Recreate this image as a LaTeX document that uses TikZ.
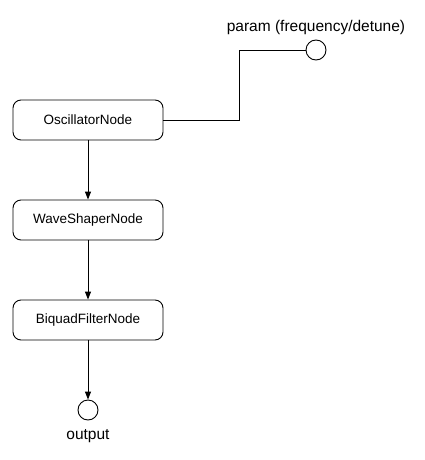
\documentclass[tikz,border=0pt]{standalone}
\usepackage{fontspec}
\setmainfont{Liberation Sans}
\usetikzlibrary{arrows.meta}
\begin{document}
\begin{tikzpicture}[x=1pt,y=-1pt,
  box/.style={draw,rounded corners=8pt,minimum width=150pt,minimum height=40pt,inner sep=0pt,line width=0.9pt,font=\fontsize{13.5}{16}\selectfont},
  port/.style={draw,circle,minimum size=20pt,inner sep=0pt,line width=0.9pt},
  lbl/.style={font=\fontsize{15.5}{18}\selectfont,inner sep=0pt},
  conn/.style={line width=0.9pt},
  arr/.style={conn,-{Triangle[length=8pt,width=6pt]}}]
\useasboundingbox (0,0) rectangle (424,460);
\node[box] (osc) at (88,120) {OscillatorNode};
\node[box] (ws) at (88,220) {WaveShaperNode};
\node[box] (bq) at (88,320) {BiquadFilterNode};
\node[port] (out) at (88,410) {};
\node[lbl] (outl) at (88,436) {output};
\node[port] (param) at (316,50) {};
\node[lbl] (paraml) at (316,27) {param (frequency/detune)};
\coordinate (c1) at (239,120);
\coordinate (c2) at (239,50);
\draw[conn] (osc.east) -- (c1) -- (c2) -- (param.west);
\draw[arr] (osc) -- (ws);
\draw[arr] (ws) -- (bq);
\draw[arr] (bq) -- (out);
\end{tikzpicture}
\end{document}
